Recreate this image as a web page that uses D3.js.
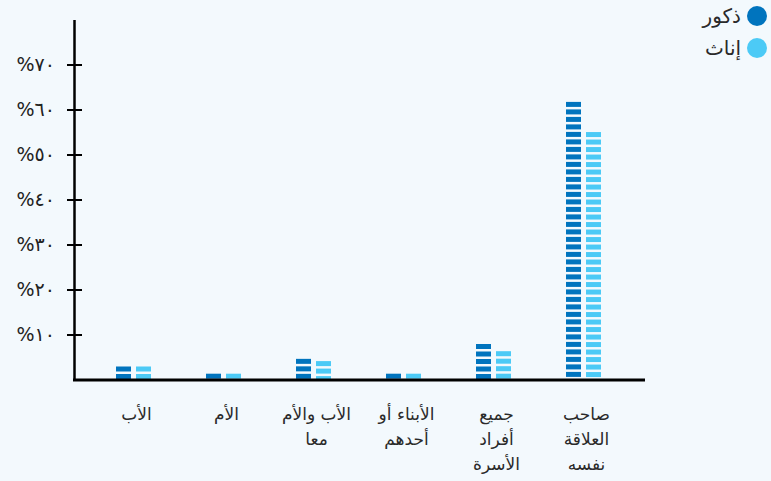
<!DOCTYPE html>
<html>
<head>
<meta charset="utf-8">
<script src="https://cdn.jsdelivr.net/npm/d3@7"></script>
<style>
  html, body { margin: 0; padding: 0; background: #f3f9fd; }
  svg { display: block; font-family: "DejaVu Sans", sans-serif; }
</style>
</head>
<body>
<div id="chart"></div>
<script>
// categories (left to right), each split into its display lines
const categories = ['الأب', 'الأم', 'الأب والأم معا', 'الأبناء أو أحدهم', 'جميع أفراد الأسرة', 'صاحب العلاقة نفسه']
const categoryLines = [['الأب'], ['الأم'], ['الأب والأم', 'معا'], ['الأبناء أو', 'أحدهم'], ['جميع', 'أفراد', 'الأسرة'], ['صاحب', 'العلاقة', 'نفسه']]
const series = ['ذكور', 'إناث']
const males = [3, 1.4, 4.7, 1.4, 8, 61.8]
const females = [3, 1.4, 4.2, 1.4, 6.4, 55.1]
const yTicks = [10, 20, 30, 40, 50, 60, 70]
const yTickLabels = ['%١٠', '%٢٠', '%٣٠', '%٤٠', '%٥٠', '%٦٠', '%٧٠']
const colors = ['#0074be', '#4ccaf6']

const width = 771, height = 481

const svg = d3.select('#chart').append('svg')
    .attr('width', width)
    .attr('height', height)

const x = d3.scaleBand().domain(categories).range([88.5, 628.5])
const xs = d3.scaleBand().domain(series).range([-17.5, 17.5]).paddingInner(0.25)
const y = d3.scaleLinear().domain([0, 80]).range([380, 20])

const stripe = 5, step = 7.5

// bars, drawn as horizontal stripes starting from the top of each bar
const rows = categories.flatMap((c, i) => [
    {cat: c, s: series[0], v: males[i], color: colors[0]},
    {cat: c, s: series[1], v: females[i], color: colors[1]},
])

const bars = svg.append('g').selectAll('g')
    .data(rows)
    .enter().append('g')
    .attr('fill', d => d.color)

bars.each(function (d) {
    const top = y(d.v), bottom = y(0)
    const x0 = x(d.cat) + x.bandwidth() / 2 + xs(d.s)
    d3.select(this).selectAll('rect')
        .data(d3.range(top, bottom, step))
        .enter().append('rect')
        .attr('x', x0)
        .attr('y', s => s)
        .attr('width', xs.bandwidth())
        .attr('height', s => Math.min(stripe, bottom - s))
})

// axes
const axis = svg.append('g').attr('stroke', '#000')
axis.append('line')
    .attr('x1', 74.5).attr('x2', 74.5)
    .attr('y1', y(80)).attr('y2', y(0))
    .attr('stroke-width', 2.5)
axis.append('line')
    .attr('x1', 73).attr('x2', 645)
    .attr('y1', y(0)).attr('y2', y(0))
    .attr('stroke-width', 3)

axis.selectAll('.tick')
    .data(yTicks)
    .enter().append('line')
    .attr('class', 'tick')
    .attr('x1', 67).attr('x2', 82)
    .attr('y1', d => y(d)).attr('y2', d => y(d))
    .attr('stroke-width', 2)

svg.append('g').selectAll('text')
    .data(yTicks)
    .enter().append('text')
    .attr('x', 55)
    .attr('y', d => y(d))
    .attr('dy', '0.33em')
    .attr('text-anchor', 'end')
    .style('font-size', '19px')
    .style('fill', '#222')
    .text((d, i) => yTickLabels[i])

// category labels
const labels = svg.append('g').selectAll('text')
    .data(categories)
    .enter().append('text')
    .attr('text-anchor', 'middle')
    .style('font-size', '17px')
    .style('fill', '#2a2a2a')

labels.each(function (c, i) {
    const cx = x(c) + x.bandwidth() / 2 + 3
    d3.select(this).selectAll('tspan')
        .data(categoryLines[i])
        .enter().append('tspan')
        .attr('x', cx)
        .attr('y', (l, j) => 420 + j * 25)
        .text(l => l)
})

// legend
const legend = svg.append('g').selectAll('g')
    .data(series)
    .enter().append('g')
    .attr('transform', (d, i) => `translate(757,${16 + i * 32})`)

legend.append('circle')
    .attr('r', 10)
    .attr('fill', (d, i) => colors[i])

legend.append('text')
    .attr('x', -16)
    .attr('dy', '0.35em')
    .attr('text-anchor', 'end')
    .style('font-size', '20px')
    .style('fill', '#2a2a2a')
    .text(d => d)
</script>
</body>
</html>
